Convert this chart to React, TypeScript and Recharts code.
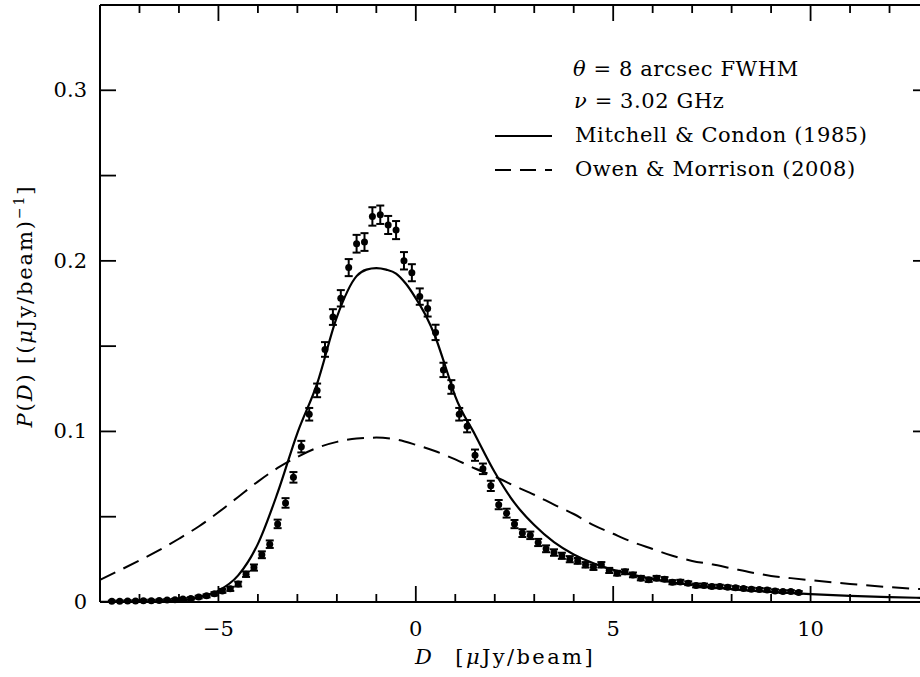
import React from 'react';
import { ComposedChart, XAxis, YAxis, Line, Scatter, ErrorBar, Label } from 'recharts';

const FONT = '"DejaVu Serif", serif';

// Measured P(D) histogram points
const pointD = [
  -7.7, -7.5, -7.3, -7.1, -6.9, -6.7, -6.5, -6.3, -6.1, -5.9, -5.7, -5.5, -5.3, -5.1, -4.9, -4.7, -4.5, -4.3, -4.1, -3.9,
  -3.7, -3.5, -3.3, -3.1, -2.9, -2.7, -2.5, -2.3, -2.1, -1.9, -1.7, -1.5, -1.3, -1.1, -0.9, -0.7, -0.5, -0.3, -0.1, 0.1,
  0.3, 0.5, 0.7, 0.9, 1.1, 1.3, 1.5, 1.7, 1.9, 2.1, 2.3, 2.5, 2.7, 2.9, 3.1, 3.3, 3.5, 3.7, 3.9, 4.1,
  4.3, 4.5, 4.7, 4.9, 5.1, 5.3, 5.5, 5.7, 5.9, 6.1, 6.3, 6.5, 6.7, 6.9, 7.1, 7.3, 7.5, 7.7, 7.9, 8.1,
  8.3, 8.5, 8.7, 8.9, 9.1, 9.3, 9.5, 9.7,
];
const pointP = [
  0.0003, 0.0003, 0.0005, 0.0005, 0.0007, 0.0007, 0.0008, 0.001, 0.0012, 0.0016, 0.002, 0.0028, 0.0035, 0.0047, 0.0064, 0.0076, 0.0104, 0.0162, 0.0201, 0.0276,
  0.0338, 0.0457, 0.058, 0.073, 0.091, 0.11, 0.124, 0.148, 0.167, 0.178, 0.196, 0.21, 0.211, 0.226, 0.227, 0.221, 0.218, 0.2, 0.193, 0.179,
  0.172, 0.158, 0.136, 0.126, 0.11, 0.103, 0.086, 0.078, 0.068, 0.057, 0.052, 0.0456, 0.0403, 0.039, 0.0348, 0.0311, 0.0289, 0.027, 0.025, 0.024,
  0.0217, 0.0203, 0.0217, 0.0184, 0.0168, 0.0176, 0.0158, 0.0139, 0.0129, 0.0139, 0.0133, 0.0115, 0.0117, 0.0109, 0.0096, 0.0096, 0.009, 0.009, 0.0086, 0.0082,
  0.0078, 0.0074, 0.0072, 0.007, 0.0064, 0.006, 0.006, 0.0055,
];
const pointErr = [
  0.0004, 0.0004, 0.0004, 0.0004, 0.0005, 0.0005, 0.0005, 0.0005, 0.0006, 0.0006, 0.0007, 0.0008, 0.0009, 0.001, 0.0011, 0.0012, 0.0014, 0.0016, 0.0018, 0.002,
  0.0022, 0.0025, 0.0028, 0.0031, 0.0034, 0.0037, 0.004, 0.0043, 0.0046, 0.0048, 0.005, 0.0052, 0.0052, 0.0054, 0.0054, 0.0053, 0.0053, 0.0051, 0.005, 0.0048,
  0.0047, 0.0045, 0.0042, 0.004, 0.0037, 0.0036, 0.0033, 0.0031, 0.003, 0.0027, 0.0026, 0.0024, 0.0023, 0.0022, 0.0021, 0.002, 0.0019, 0.0018, 0.0018, 0.0017,
  0.0016, 0.0016, 0.0016, 0.0015, 0.0014, 0.0014, 0.0014, 0.0013, 0.0012, 0.0013, 0.0012, 0.0012, 0.0012, 0.0011, 0.0011, 0.0011, 0.001, 0.001, 0.001, 0.001,
  0.0009, 0.0009, 0.0009, 0.0009, 0.0009, 0.0008, 0.0008, 0.0008,
];

// Mitchell & Condon (1985) model (solid)
const mcD = [-8, -7, -6.5, -6, -5.5, -5, -4.5, -4, -3.5, -3, -2.5, -2, -1.5, -1.25, -1, -0.75, -0.5, -0.25, 0, 0.25, 0.5, 0.75, 1, 1.5, 2, 2.5, 3, 3.5, 4, 4.5, 5, 5.5, 6, 6.5, 7, 7.5, 8, 9, 10, 11, 12, 13];
const mcP = [0, 0, 0.0001, 0.0005, 0.0027, 0.0065, 0.0155, 0.034, 0.064, 0.099, 0.128, 0.167, 0.191, 0.1948, 0.1957, 0.1948, 0.1925, 0.1865, 0.178, 0.168, 0.155, 0.138, 0.1205, 0.098, 0.076, 0.058, 0.045, 0.035, 0.0278, 0.0226, 0.0188, 0.0158, 0.0134, 0.0115, 0.01, 0.0086, 0.0075, 0.0058, 0.0045, 0.0035, 0.0028, 0.0022];

// Owen & Morrison (2008) model (dashed)
const omD = [-8, -7.5, -7, -6.5, -6, -5.5, -5, -4.5, -4, -3.5, -3, -2.5, -2, -1.5, -1, -0.5, 0, 0.5, 1, 1.5, 2, 2.5, 3, 3.5, 4, 4.5, 5, 5.5, 6, 6.5, 7, 7.5, 8, 8.5, 9, 9.5, 10, 11, 12, 13];
const omP = [0.0129, 0.0185, 0.0243, 0.0303, 0.037, 0.0442, 0.0525, 0.0615, 0.0705, 0.0785, 0.085, 0.0903, 0.0938, 0.0958, 0.0963, 0.0952, 0.0921, 0.0883, 0.0835, 0.0782, 0.0735, 0.068, 0.0628, 0.057, 0.0515, 0.045, 0.0399, 0.035, 0.031, 0.027, 0.024, 0.022, 0.0196, 0.0172, 0.0152, 0.0139, 0.0127, 0.0105, 0.0086, 0.0072];

const xDomain = [-8, 13];
const yDomain = [0, 0.35];
const xTicks = [-8, -7, -6, -5, -4, -3, -2, -1, 0, 1, 2, 3, 4, 5, 6, 7, 8, 9, 10, 11, 12, 13];
const xMajor = [-5, 0, 5, 10];
const yTicks = [0, 0.05, 0.1, 0.15, 0.2, 0.25, 0.3];
const yMajor = [0, 0.1, 0.2, 0.3];
const yLabels = ['0', '0.1', '0.2', '0.3'];

const points = pointD.map((x, i) => ({ x, p: pointP[i], e: pointErr[i] }));
const mcData = mcD.map((x, i) => ({ x, p: mcP[i] }));
const omData = omD.map((x, i) => ({ x, p: omP[i] }));

// plot frame (chart coordinates)
const PL = 100;
const PR = 929;
const PT = 5;
const PB = 602;
const MAJOR_LEN = 16;
const MINOR_LEN = 8;
const frameStyle = { stroke: '#000', strokeWidth: 2 };
// same linear mapping the chart's axes use (frame + domain), for the inward tick marks
const axX = (v: number) => PL + ((v - xDomain[0]) / (xDomain[1] - xDomain[0])) * (PR - PL);
const axY = (v: number) => PB - ((v - yDomain[0]) / (yDomain[1] - yDomain[0])) * (PB - PT);

const fmtX = (v: number) => (v < 0 ? `\u2212${-v}` : `${v}`);
const isXMajor = (v: number) => xMajor.some((m) => Math.abs(m - v) < 1e-9);
const yMajorIdx = (v: number) => yMajor.findIndex((m) => Math.abs(m - v) < 1e-9);

const BottomTick = (props: any) => {
  const { x, payload } = props;
  if (!isXMajor(payload.value)) return <g />;
  return (
    <text x={x} y={PB + 34} textAnchor="middle" fontFamily={FONT} fontSize={21} fill="#000">
      {fmtX(payload.value)}
    </text>
  );
};

const LeftTick = (props: any) => {
  const { y, payload } = props;
  const idx = yMajorIdx(payload.value);
  if (idx < 0) return <g />;
  return (
    <text x={PL - 13} y={y + 7} textAnchor="end" fontFamily={FONT} fontSize={21} fill="#000">
      {yLabels[idx]}
    </text>
  );
};

const Empty = () => <g />;

const XLabel = () => (
  <text x={505} y={PB + 62} textAnchor="middle" fontFamily={FONT} fontSize={21} letterSpacing={2.4} fill="#000">
    <tspan fontStyle="italic">D</tspan>
    <tspan dx={12}> [</tspan>
    <tspan fontStyle="italic">μ</tspan>
    <tspan>Jy/beam]</tspan>
  </text>
);

const YLabel = () => (
  <text transform="translate(32, 306) rotate(-90)" textAnchor="middle" fontFamily={FONT} fontSize={21} letterSpacing={1.9} fill="#000">
    <tspan fontStyle="italic">P</tspan>
    <tspan>(</tspan>
    <tspan fontStyle="italic">D</tspan>
    <tspan>) [(</tspan>
    <tspan fontStyle="italic">μ</tspan>
    <tspan>Jy/beam)</tspan>
    <tspan dy={-8} fontSize={14}>−1</tspan>
    <tspan dy={8}>]</tspan>
  </text>
);

const Dot = (props: any) => <circle cx={props.cx} cy={props.cy} r={3.5} fill="#000" />;

const legendText = { fontFamily: FONT, fontSize: 21, letterSpacing: 0.6, fill: '#000' } as const;

const TickMarks = () => (
  <g stroke="#000" strokeWidth={1.8}>
    {xTicks.map((v) => {
      const len = isXMajor(v) ? MAJOR_LEN : MINOR_LEN;
      const x = axX(v);
      return (
        <g key={`x${v}`}>
          <line x1={x} y1={PB} x2={x} y2={PB - len} />
          <line x1={x} y1={PT} x2={x} y2={PT + len} />
        </g>
      );
    })}
    {yTicks.map((v) => {
      const y = axY(v);
      const lenR = yMajorIdx(v) >= 0 ? MAJOR_LEN : MINOR_LEN;
      return (
        <g key={`y${v}`}>
          <line x1={PL} y1={y} x2={PL + MAJOR_LEN} y2={y} />
          <line x1={PR} y1={y} x2={PR - lenR} y2={y} />
        </g>
      );
    })}
  </g>
);

export default function App() {
  return (
    <div style={{ position: 'absolute', left: 0, top: 0, width: 920, height: 677, overflow: 'hidden', background: '#fff' }}>
      <ComposedChart width={940} height={677} margin={{ top: PT, right: 940 - PR, bottom: 0, left: 0 }}>
        <XAxis
          xAxisId="b"
          type="number"
          dataKey="x"
          domain={xDomain}
          ticks={xTicks}
          interval={0}
          orientation="bottom"
          height={677 - PB}
          tickSize={0}
          tickMargin={0}
          tickLine={false}
          tick={<BottomTick />}
          axisLine={frameStyle}
        >
          <Label content={<XLabel />} />
        </XAxis>
        <XAxis
          xAxisId="t"
          dataKey="x"
          type="number"
          domain={xDomain}
          allowDataOverflow
          ticks={xMajor}
          interval={0}
          orientation="top"
          mirror
          height={20}
          tick={<Empty />}
          tickLine={false}
          axisLine={frameStyle}
        />
        <YAxis
          yAxisId="l"
          type="number"
          dataKey="p"
          domain={yDomain}
          ticks={yTicks}
          interval={0}
          width={PL}
          tickSize={0}
          tickMargin={0}
          tickLine={false}
          tick={<LeftTick />}
          axisLine={frameStyle}
        >
          <Label content={<YLabel />} />
        </YAxis>
        <YAxis
          yAxisId="r"
          dataKey="p"
          type="number"
          domain={yDomain}
          allowDataOverflow
          ticks={yMajor}
          interval={0}
          orientation="right"
          mirror
          width={20}
          tick={<Empty />}
          tickLine={false}
          axisLine={frameStyle}
        />
        <Line
          xAxisId="b"
          yAxisId="l"
          data={omData}
          dataKey="p"
          type="monotone"
          dot={false}
          activeDot={false}
          stroke="#000"
          strokeWidth={2}
          strokeDasharray="17 9"
          isAnimationActive={false}
        />
        <Line
          xAxisId="b"
          yAxisId="l"
          data={mcData}
          dataKey="p"
          type="monotone"
          dot={false}
          activeDot={false}
          stroke="#000"
          strokeWidth={2.2}
          isAnimationActive={false}
        />
        <Scatter xAxisId="b" yAxisId="l" data={points} dataKey="p" shape={Dot} isAnimationActive={false}>
          <ErrorBar dataKey="e" direction="y" width={4} stroke="#000" strokeWidth={2} isAnimationActive={false} />
        </Scatter>
      </ComposedChart>
      <svg width={920} height={677} style={{ position: 'absolute', left: 0, top: 0, pointerEvents: 'none' }}>
        <TickMarks />
        <text x={573} y={76} {...legendText}>
          <tspan fontStyle="italic">θ</tspan>
          <tspan> = 8 arcsec FWHM</tspan>
        </text>
        <text x={574} y={108} {...legendText}>
          <tspan fontStyle="italic">ν</tspan>
          <tspan> = 3.02 GHz</tspan>
        </text>
        <line x1={495} y1={136} x2={552} y2={136} stroke="#000" strokeWidth={2.2} />
        <text x={575} y={142} {...legendText}>Mitchell &amp; Condon (1985)</text>
        <line x1={495} y1={170} x2={552} y2={170} stroke="#000" strokeWidth={2} strokeDasharray="16 9" />
        <text x={575} y={176} {...legendText}>Owen &amp; Morrison (2008)</text>
      </svg>
    </div>
  );
}
